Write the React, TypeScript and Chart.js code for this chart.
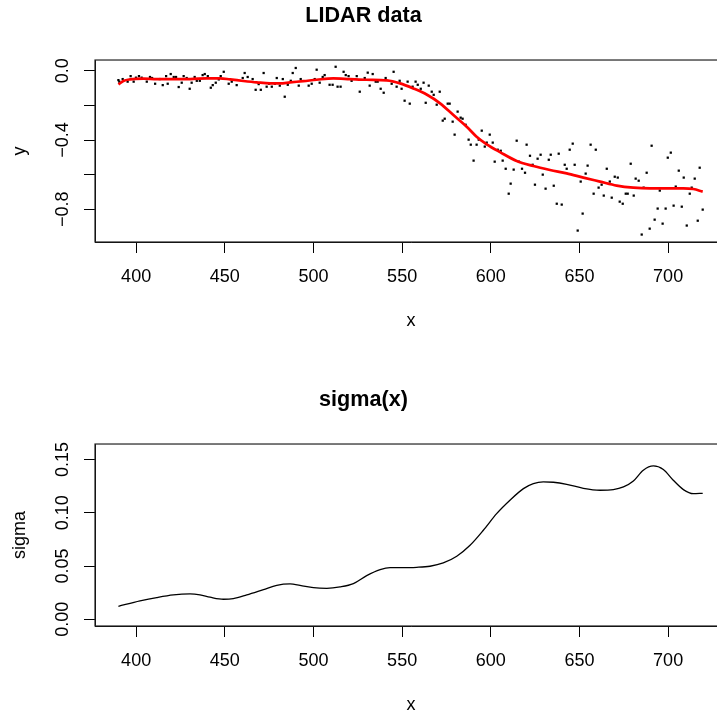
import { useEffect, useRef } from 'react';
import { Chart, registerables } from 'chart.js';

Chart.register(...registerables);

const FONT = '"Liberation Sans", Arial, Helvetica, sans-serif';

const lidarRange = [
  390.0, 390.5, 392.4, 395.2, 396.9, 398.6, 399.9, 401.6, 403.1, 406.0, 407.8, 409.0, 410.7, 413.3, 415.0, 416.9,
  417.8, 419.5, 421.2, 422.5, 424.0, 425.7, 426.8, 428.5, 430.2, 431.3, 433.0, 434.2, 435.9, 437.5, 438.7, 440.4,
  442.1, 443.2, 444.9, 446.6, 447.7, 449.4, 452.2, 453.9, 456.7, 460.1, 461.2, 462.9, 465.7, 467.4, 469.1, 470.3,
  471.9, 473.6, 475.0, 476.5, 478.2, 479.3, 481.0, 482.7, 483.8, 485.5, 487.2, 488.3, 490.0, 491.7, 492.8, 497.3,
  499.0, 500.7, 501.8, 503.5, 505.2, 506.3, 509.1, 510.8, 512.5, 513.6, 515.3, 517.0, 518.2, 519.8, 521.5, 524.4,
  526.1, 528.9, 530.6, 531.7, 533.4, 535.1, 536.2, 537.9, 539.6, 540.7, 544.1, 545.2, 546.9, 548.6, 549.7, 551.4,
  553.1, 554.3, 555.9, 557.6, 558.8, 560.5, 562.1, 563.3, 565.0, 566.7, 567.8, 569.5, 571.2, 572.9, 574.0, 575.7,
  576.8, 578.5, 579.6, 581.3, 583.0, 584.1, 585.8, 587.5, 588.7, 590.3, 592.0, 593.2, 594.9, 596.6, 597.7, 599.4,
  601.1, 602.2, 603.9, 605.6, 606.7, 608.4, 610.1, 611.2, 612.9, 614.6, 615.9, 617.6, 619.3, 620.2, 622.1, 623.6,
  624.9, 626.4, 628.1, 629.3, 630.9, 632.7, 633.8, 635.5, 637.2, 638.3, 640.0, 641.7, 642.8, 644.5, 646.2, 647.3,
  649.0, 650.7, 651.8, 653.5, 654.6, 656.3, 658.0, 659.2, 660.8, 662.5, 663.7, 665.4, 667.1, 668.2, 669.9, 671.6,
  672.7, 674.4, 676.1, 677.2, 678.9, 680.6, 681.7, 683.4, 685.1, 686.2, 687.9, 689.6, 690.7, 692.4, 694.1, 695.3,
  696.9, 698.6, 699.8, 701.5, 703.1, 704.3, 706.0, 707.7, 708.8, 710.5, 712.2, 713.3, 715.0, 716.7, 717.8, 719.5,
];
const lidarLogratio = [
  -0.054, -0.063, -0.048, -0.063, -0.031, -0.063, -0.040, -0.031, -0.040, -0.063, -0.036, -0.042, -0.075, -0.048, -0.083, -0.031,
  -0.075, -0.019, -0.036, -0.036, -0.094, -0.069, -0.031, -0.042, -0.104, -0.069, -0.036, -0.058, -0.058, -0.025, -0.019, -0.031,
  -0.098, -0.083, -0.069, -0.050, -0.031, -0.006, -0.075, -0.063, -0.083, -0.042, -0.013, -0.036, -0.048, -0.110, -0.077, -0.110,
  -0.013, -0.092, -0.075, -0.092, -0.075, -0.042, -0.086, -0.048, -0.150, -0.081, -0.058, -0.013, 0.016, -0.086, -0.048, -0.086,
  -0.075, -0.048, 0.006, -0.069, -0.036, -0.025, -0.081, -0.081, 0.023, -0.092, -0.092, -0.006, -0.025, -0.031, -0.058, -0.031,
  -0.121, -0.042, -0.011, -0.086, -0.019, -0.063, -0.063, -0.104, -0.127, -0.042, -0.075, -0.006, -0.092, -0.058, -0.104, -0.173,
  -0.063, -0.190, -0.092, -0.063, -0.081, -0.104, -0.069, -0.185, -0.086, -0.121, -0.139, -0.196, -0.121, -0.288, -0.277, -0.190,
  -0.190, -0.294, -0.369, -0.236, -0.271, -0.277, -0.312, -0.398, -0.427, -0.519, -0.427, -0.398, -0.346, -0.438, -0.415, -0.369,
  -0.415, -0.525, -0.456, -0.462, -0.519, -0.566, -0.710, -0.652, -0.571, -0.404, -0.525, -0.566, -0.589, -0.427, -0.491, -0.543,
  -0.658, -0.508, -0.485, -0.600, -0.681, -0.514, -0.485, -0.664, -0.768, -0.479, -0.773, -0.543, -0.566, -0.456, -0.421, -0.543,
  -0.923, -0.640, -0.825, -0.594, -0.548, -0.427, -0.710, -0.456, -0.675, -0.658, -0.721, -0.566, -0.640, -0.733, -0.612, -0.617,
  -0.756, -0.768, -0.710, -0.710, -0.537, -0.721, -0.623, -0.635, -0.946, -0.675, -0.589, -0.912, -0.433, -0.860, -0.796, -0.692,
  -0.883, -0.796, -0.502, -0.473, -0.779, -0.669, -0.577, -0.785, -0.617, -0.894, -0.710, -0.675, -0.623, -0.866, -0.560, -0.802,
];

// fitted mean curve (red)
const fitRange = [
  390, 392.8, 396.6, 404.1, 411.6, 421, 430.4, 439.8, 447.3, 453, 460.5, 468, 475.5, 481.2, 486.8, 494.3,
  501.8, 511.2, 520.6, 530, 541.3, 548.8, 556.3, 563.8, 571.4, 578.9, 586.4, 592, 597.7, 605.2, 614.6, 624,
  633.4, 642.8, 652.2, 661.6, 671, 680.4, 689.8, 699.2, 708.6, 714.2, 719.5,
];
const fitValue = [
  -0.079, -0.059, -0.050, -0.046, -0.048, -0.048, -0.048, -0.044, -0.044, -0.050, -0.059, -0.067, -0.073, -0.073, -0.067, -0.060,
  -0.052, -0.044, -0.048, -0.052, -0.056, -0.073, -0.102, -0.137, -0.188, -0.256, -0.323, -0.381, -0.425, -0.470, -0.521, -0.550,
  -0.573, -0.593, -0.617, -0.640, -0.663, -0.675, -0.679, -0.679, -0.679, -0.683, -0.698,
];

// estimated standard deviation curve
const sigmaRange = [
  390, 402.2, 411.6, 421, 430.4, 436, 441.7, 449.2, 454.8, 462.4, 471.8, 479.3, 486.8, 492.4, 500, 507.5,
  515, 522.5, 530, 537.6, 543.2, 548.8, 558.2, 565.7, 573.2, 580.8, 588.3, 595.8, 603.3, 610.8, 618.4, 624,
  629.6, 635.3, 642.8, 652.2, 661.6, 669.1, 674.8, 680.4, 686, 691.7, 697.3, 702.9, 708.6, 714.2, 719.5,
];
const sigmaValue = [
  0.0122, 0.0172, 0.0204, 0.0229, 0.0238, 0.0229, 0.0207, 0.0188, 0.0194, 0.0229, 0.0279, 0.0319, 0.0332, 0.0319, 0.0297, 0.0291,
  0.0304, 0.0335, 0.0410, 0.0466, 0.0485, 0.0485, 0.0488, 0.0498, 0.0529, 0.0592, 0.0695, 0.0836, 0.0992, 0.1118, 0.1227, 0.1274,
  0.1290, 0.1287, 0.1268, 0.1230, 0.1212, 0.1218, 0.1243, 0.1299, 0.1400, 0.1440, 0.1406, 0.1306, 0.1218, 0.1180, 0.1183,
];

const xTicks = [400, 450, 500, 550, 600, 650, 700];
const lidarYTicks = [0, -0.2, -0.4, -0.6, -0.8];
const lidarYLabels = ['0.0', '', '\u22120.4', '', '\u22120.8'];
const sigmaYTicks = [0, 0.05, 0.1, 0.15];
const sigmaYLabels = ['0.00', '0.05', '0.10', '0.15'];

const rStylePlugin = {
  id: 'rStyle',
  afterDraw(chart: any, _args: any, opts: any) {
    const { ctx, chartArea: a } = chart;
    ctx.save();
    ctx.strokeStyle = '#222';
    ctx.lineWidth = 1.2;
    ctx.strokeRect(a.left, a.top, a.right - a.left, a.bottom - a.top);
    const ys = chart.scales.y;
    ctx.fillStyle = '#000';
    ctx.font = `18px ${FONT}`;
    ctx.textAlign = 'center';
    ctx.textBaseline = 'alphabetic';
    (opts.values as number[]).forEach((v, i) => {
      const lab = opts.labels[i];
      if (!lab) return;
      const py = ys.getPixelForValue(v);
      ctx.save();
      ctx.translate(a.left - 26.6, py);
      ctx.rotate(-Math.PI / 2);
      ctx.fillText(lab, 0, 0);
      ctx.restore();
    });
    ctx.restore();
  },
};

function buildOptions(title: string, yTitle: string, yMin: number, yMax: number, yTicks: number[], yLabels: string[]): any {
  const gridOpts = { display: true, drawOnChartArea: false, drawTicks: true, tickLength: 11, color: '#000', lineWidth: 1 };
  return {
    responsive: true,
    maintainAspectRatio: false,
    animation: false,
    layout: { padding: { left: 0, right: 13, top: 0, bottom: 0 } },
    plugins: {
      legend: { display: false },
      tooltip: { enabled: false },
      title: {
        display: true,
        text: title,
        color: '#000',
        font: { family: FONT, size: 21.6, weight: 'bold' },
        padding: { top: 3.5, bottom: 30.6 },
      },
      rStyle: { values: yTicks, labels: yLabels },
    },
    scales: {
      x: {
        type: 'linear',
        min: 376.8,
        max: 733.2,
        afterBuildTicks: (s: any) => { s.ticks = xTicks.map((v) => ({ value: v })); },
        afterFit: (s: any) => { s.height = 142; },
        grid: gridOpts,
        border: { display: true, color: '#000', width: 1 },
        ticks: { color: '#000', font: { family: FONT, size: 18 }, padding: 13.2, maxRotation: 0, autoSkip: false },
        title: { display: true, text: 'x', color: '#000', font: { family: FONT, size: 18 }, padding: { top: 0, bottom: 52 } },
      },
      y: {
        type: 'linear',
        min: yMin,
        max: yMax,
        afterBuildTicks: (s: any) => { s.ticks = yTicks.map((v) => ({ value: v })); },
        afterFit: (s: any) => { s.width = 95; },
        grid: gridOpts,
        border: { display: true, color: '#000', width: 1 },
        ticks: { display: false },
        title: { display: true, text: yTitle, color: '#000', font: { family: FONT, size: 18 }, padding: { top: 9, bottom: 0 } },
      },
    },
  };
}

function LidarChart() {
  const ref = useRef<HTMLCanvasElement>(null);
  useEffect(() => {
    if (!ref.current) return;
    const chart = new Chart(ref.current, {
      type: 'scatter',
      data: {
        datasets: [
          {
            label: 'fit',
            data: fitRange.map((x, i) => ({ x, y: fitValue[i] })),
            showLine: true,
            borderColor: '#ff0000',
            borderWidth: 2.7,
            pointRadius: 0,
            cubicInterpolationMode: 'monotone',
          } as any,
          {
            label: 'LIDAR',
            data: lidarRange.map((x, i) => ({ x, y: lidarLogratio[i] })),
            showLine: false,
            pointStyle: 'rect',
            pointRadius: 1.6,
            pointBackgroundColor: '#000',
            pointBorderWidth: 0,
          } as any,
        ],
      },
      options: buildOptions('LIDAR data', 'y', -0.989, 0.062, lidarYTicks, lidarYLabels),
      plugins: [rStylePlugin as any],
    });
    return () => chart.destroy();
  }, []);
  return <canvas ref={ref} />;
}

function SigmaChart() {
  const ref = useRef<HTMLCanvasElement>(null);
  useEffect(() => {
    if (!ref.current) return;
    const chart = new Chart(ref.current, {
      type: 'scatter',
      data: {
        datasets: [
          {
            label: 'sigma',
            data: sigmaRange.map((x, i) => ({ x, y: sigmaValue[i] })),
            showLine: true,
            borderColor: '#000',
            borderWidth: 1.3,
            pointRadius: 0,
            cubicInterpolationMode: 'monotone',
          } as any,
        ],
      },
      options: buildOptions('sigma(x)', 'sigma', -0.00633, 0.1646, sigmaYTicks, sigmaYLabels),
      plugins: [rStylePlugin as any],
    });
    return () => chart.destroy();
  }, []);
  return <canvas ref={ref} />;
}

export default function App() {
  return (
    <div style={{ position: 'absolute', left: 0, top: 0, width: 717, height: 713, overflow: 'hidden', background: '#fff' }}>
      <div style={{ position: 'absolute', left: 0, top: 0, width: 740, height: 384 }}>
        <LidarChart />
      </div>
      <div style={{ position: 'absolute', left: 0, top: 384, width: 740, height: 384 }}>
        <SigmaChart />
      </div>
    </div>
  );
}
